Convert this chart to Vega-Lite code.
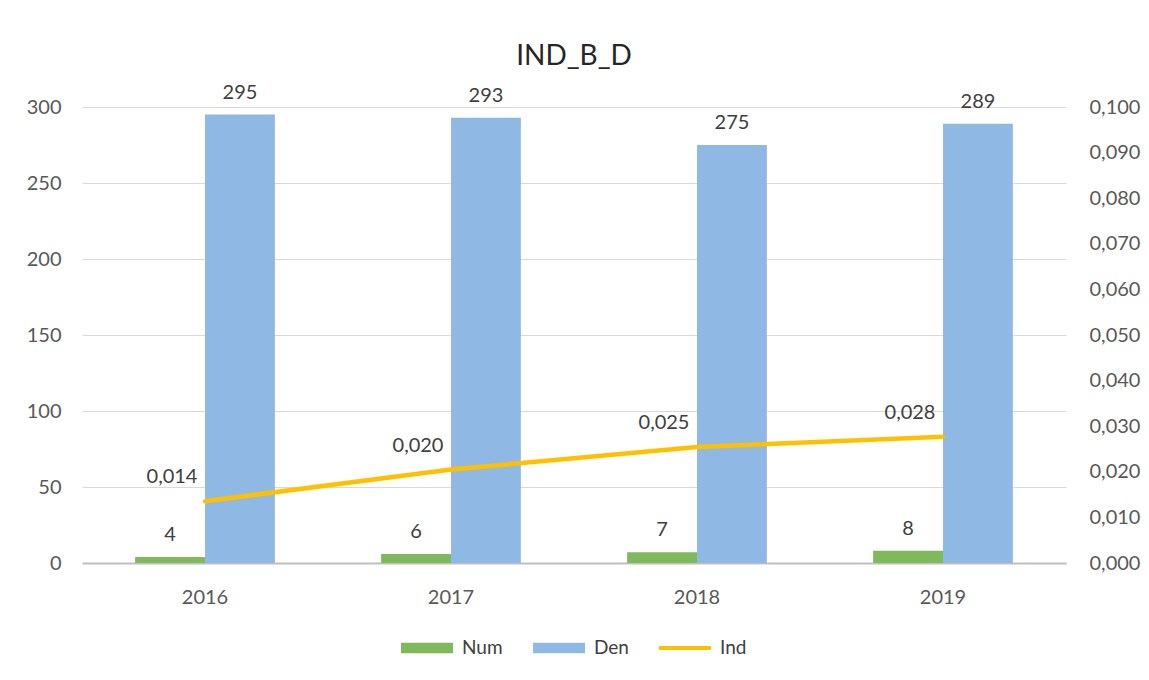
{
  "$schema": "https://vega.github.io/schema/vega-lite/v6.json",
  "width": 984,
  "height": 456,
  "padding": {"left": 26, "top": 42, "right": 15, "bottom": 10},
  "background": "white",
  "title": {"text": "IND_B_D", "fontSize": 28, "font": "Lato", "fontWeight": "normal", "color": "#262626", "offset": 12},
  "config": {
    "font": "Lato",
    "locale": {"number": {"decimal": ",", "thousands": ".", "grouping": [3], "currency": ["", " €"]}},
    "view": {"stroke": null},
    "axis": {"labelFont": "Lato", "labelFontSize": 20, "labelColor": "#595959", "ticks": false, "domain": false, "title": null},
    "legend": {"layout": {"bottom": {"anchor": "middle"}}}
  },
  "datasets": {
    "bars": [
      {"year": "2016", "series": "Num", "value": 4},
      {"year": "2016", "series": "Den", "value": 295},
      {"year": "2017", "series": "Num", "value": 6},
      {"year": "2017", "series": "Den", "value": 293},
      {"year": "2018", "series": "Num", "value": 7},
      {"year": "2018", "series": "Den", "value": 275},
      {"year": "2019", "series": "Num", "value": 8},
      {"year": "2019", "series": "Den", "value": 289}
    ],
    "ind": [
      {"year": "2016", "series": "Ind", "value": 0.01356},
      {"year": "2017", "series": "Ind", "value": 0.02048},
      {"year": "2018", "series": "Ind", "value": 0.02545},
      {"year": "2019", "series": "Ind", "value": 0.02768}
    ]
  },
  "layer": [
    {
      "data": {"name": "bars"},
      "encoding": {
        "x": {"field": "year", "type": "nominal", "scale": {"paddingInner": 0.432, "paddingOuter": 0.216},
              "axis": {"domain": true, "domainColor": "#BFBFBF", "domainWidth": 2, "labelPadding": 24, "labelAngle": 0, "grid": false}},
        "xOffset": {"field": "series", "type": "nominal", "sort": ["Num", "Den"], "scale": {"paddingInner": 0, "paddingOuter": 0}},
        "y": {"field": "value", "type": "quantitative", "scale": {"domain": [0, 300], "nice": false},
              "axis": {"values": [0, 50, 100, 150, 200, 250, 300], "grid": true, "gridColor": "#D9D9D9", "gridWidth": 1, "labelPadding": 21, "orient": "left"}}
      },
      "layer": [
        {
          "mark": {"type": "bar"},
          "encoding": {
            "color": {"field": "series", "type": "nominal",
                      "scale": {"domain": ["Num", "Den", "Ind"], "range": ["#80B85C", "#8FB9E4", "#FFC000"]},
                      "legend": {"orient": "bottom", "title": null, "direction": "horizontal", "offset": 15,
                                 "labelFontSize": 19, "labelColor": "#404040", "labelFont": "Lato",
                                 "symbolType": "M-1,-0.2H1V0.2H-1Z", "symbolSize": 2700, "symbolStrokeWidth": 0,
                                 "columnPadding": 30, "labelOffset": 9,
                                 "encode": {"symbols": {"update": {
                                   "shape": {"signal": "datum.value === 'Ind' ? 'M-1,-0.08H1V0.08H-1Z' : 'M-1,-0.2H1V0.2H-1Z'"},
                                   "fill": {"scale": "color", "field": "value"},
                                   "strokeWidth": {"value": 0},
                                   "opacity": {"value": 1}}}}}
            }
          }
        },
        {
          "mark": {"type": "text", "baseline": "bottom", "dy": -12, "fontSize": 20, "color": "#404040"},
          "encoding": {"text": {"field": "value", "type": "quantitative"}}
        }
      ]
    },
    {
      "data": {"name": "ind"},
      "encoding": {
        "x": {"field": "year", "type": "nominal", "axis": {"domain": true, "domainColor": "#BFBFBF", "domainWidth": 2, "labelPadding": 24, "labelAngle": 0, "grid": false}},
        "y": {"field": "value", "type": "quantitative", "scale": {"domain": [0, 0.1], "nice": false},
              "axis": {"orient": "right", "values": [0, 0.01, 0.02, 0.03, 0.04, 0.05, 0.06, 0.07, 0.08, 0.09, 0.1], "format": ".3f", "grid": false, "labelPadding": 23}}
      },
      "layer": [
        {
          "mark": {"type": "line", "strokeWidth": 4.5, "strokeCap": "round"},
          "encoding": {"color": {"field": "series", "type": "nominal", "legend": null}}
        },
        {
          "mark": {"type": "text", "baseline": "middle", "align": "center", "dx": -33, "dy": -24, "fontSize": 20, "color": "#404040"},
          "encoding": {"text": {"field": "value", "type": "quantitative", "format": ".3f"}}
        }
      ]
    }
  ],
  "resolve": {"scale": {"y": "independent"}}
}
